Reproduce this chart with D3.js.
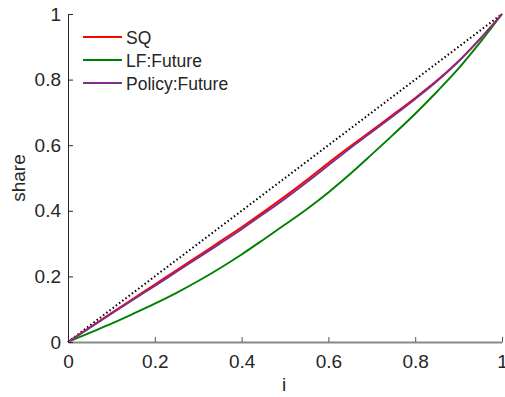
<!DOCTYPE html>
<html lang="en">
<head>
  <meta charset="UTF-8">
  <title>share vs i</title>
  <script src="https://d3js.org/d3.v7.min.js"></script>
  <style>
    body { margin: 0; background: #fff; }
    svg text { font-family: "Liberation Sans", Arial, sans-serif; fill: #262626; }
  </style>
</head>
<body>
  <div id="chart"></div>
  <script>
    // values
    const xs = [0, 0.05, 0.1, 0.15, 0.2, 0.25, 0.3, 0.35, 0.4, 0.45, 0.5,
                0.55, 0.6, 0.65, 0.7, 0.75, 0.8, 0.85, 0.9, 0.95, 1];
    const sq = [0, 0.044, 0.088, 0.132, 0.175, 0.219, 0.262, 0.306, 0.35, 0.396, 0.444,
                0.494, 0.546, 0.596, 0.645, 0.694, 0.744, 0.797, 0.856, 0.925, 1];
    const lfFuture = [0, 0.028, 0.056, 0.086, 0.117, 0.15, 0.186, 0.225, 0.267, 0.312, 0.358,
                      0.405, 0.456, 0.512, 0.572, 0.633, 0.696, 0.763, 0.834, 0.914, 1];
    const policyFuture = [0, 0.043, 0.086, 0.129, 0.171, 0.214, 0.257, 0.3, 0.344, 0.39, 0.437,
                          0.487, 0.539, 0.591, 0.64, 0.69, 0.741, 0.795, 0.856, 0.925, 1];
    const diagonal = [0, 1];
    const diagX = [0, 1];
    const xTicks = [0, 0.2, 0.4, 0.6, 0.8, 1];
    const yTicks = [0, 0.2, 0.4, 0.6, 0.8, 1];

    const series = [
      { name: 'SQ', values: sq, color: '#ff0000' },
      { name: 'LF:Future', values: lfFuture, color: '#008000' },
      { name: 'Policy:Future', values: policyFuture, color: '#7e2f8e' }
    ];

    const width = 505, height = 397;
    const svg = d3.select('#chart').append('svg')
      .attr('width', width).attr('height', height);

    const x = d3.scaleLinear().domain([0, 1]).range([68, 502]);
    const y = d3.scaleLinear().domain([0, 1]).range([342, 14]);

    const line = d3.line().x(d => x(d[0])).y(d => y(d[1]))
      .curve(d3.curveMonotoneX);

    // reference diagonal
    svg.append('path')
      .attr('d', line(diagX.map((v, i) => [v, diagonal[i]])))
      .attr('fill', 'none')
      .attr('stroke', '#000')
      .attr('stroke-width', 2)
      .attr('stroke-dasharray', '1.5,2.5');

    // LF first, then SQ, policy on top
    [series[1], series[0], series[2]].forEach(s => {
      svg.append('path')
        .attr('d', line(xs.map((v, i) => [v, s.values[i]])))
        .attr('fill', 'none')
        .attr('stroke', s.color)
        .attr('stroke-width', 1.9);
    });

    // axes, ticks pointing inward
    const fmt = d => d3.format('~g')(d);
    const xAxis = svg.append('g').attr('transform', `translate(0,${y(0)})`)
      .call(d3.axisBottom(x).tickValues(xTicks).tickSizeInner(-5).tickSizeOuter(0)
        .tickPadding(13).tickFormat(fmt));
    xAxis.select('.domain').attr('stroke', '#8a8a8a').attr('stroke-width', 2);
    xAxis.selectAll('.tick line').attr('stroke', '#555');
    xAxis.selectAll('text').attr('font-size', 19).attr('fill', '#262626');

    const yAxis = svg.append('g').attr('transform', `translate(${x(0)},0)`)
      .call(d3.axisLeft(y).tickValues(yTicks).tickSizeInner(-5).tickSizeOuter(0)
        .tickPadding(7).tickFormat(fmt));
    yAxis.select('.domain').attr('stroke', '#262626');
    yAxis.selectAll('.tick line').attr('stroke', '#262626');
    yAxis.selectAll('text').attr('font-size', 19).attr('fill', '#262626');

    // axis labels
    svg.append('text')
      .attr('x', x(0.5) - 1).attr('y', 391)
      .attr('text-anchor', 'middle')
      .attr('font-size', 19)
      .text('i');
    svg.append('text')
      .attr('transform', `translate(25,${y(0.5)}) rotate(-90)`)
      .attr('text-anchor', 'middle')
      .attr('font-size', 19)
      .text('share');

    // legend
    const legend = svg.append('g');
    series.forEach((s, i) => {
      const ly = 37 + i * 23;
      legend.append('line')
        .attr('x1', 83).attr('x2', 122)
        .attr('y1', ly).attr('y2', ly)
        .attr('stroke', s.color).attr('stroke-width', 1.9);
      legend.append('text')
        .attr('x', 126).attr('y', ly + 6.5)
        .attr('font-size', 17.5)
        .attr('fill', '#000')
        .text(s.name);
    });
  </script>
</body>
</html>
